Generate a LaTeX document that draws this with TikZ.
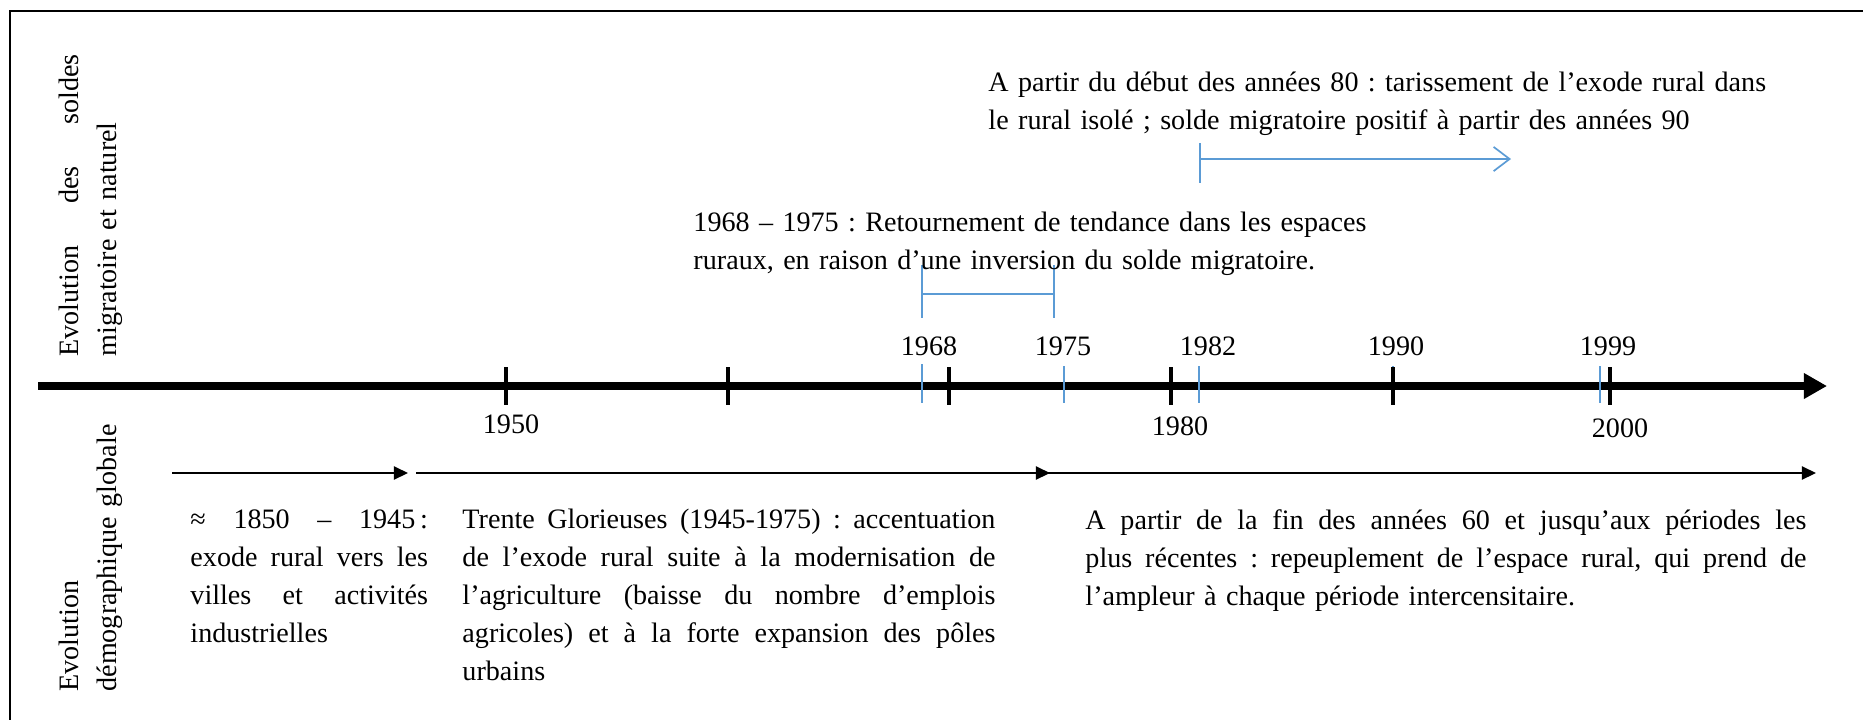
\documentclass[tikz,border=0pt]{standalone}
\usepackage{fontspec}
\setmainfont{Liberation Serif}
\usetikzlibrary{arrows.meta}
\definecolor{wordblue}{RGB}{91,155,213}
% one line of a justified block, stretched to the given width
\newcommand{\jline}[2]{\leavevmode\hbox to #1{\spaceskip=0.25em plus 1fil\relax\xspaceskip=\spaceskip #2}}
\newcommand{\bodyfont}{\fontsize{11.6}{15.7}\selectfont\frenchspacing}
\tikzset{
    txt/.style={anchor=base west, inner sep=0pt, font=\bodyfont},
    block/.style={txt, text width=#1},
    note/.style={txt, text width=#1, align=left},
    year/.style={anchor=base, inner sep=0pt, font=\bodyfont},
    axisline/.style={line width=3.3pt, -{Triangle[length=9.5pt,width=10pt]}},
    tick/.style={line width=1.5pt},
    bluetick/.style={wordblue, line width=0.6pt},
    period/.style={line width=0.8pt, -{Triangle[length=5.8pt,width=5.4pt]}},
    bluearrow/.style={wordblue, line width=0.7pt, -{Straight Barb[length=6.6pt,width=10pt]}},
}

\begin{document}
\begin{tikzpicture}[x=1.45cm, y=1.45cm]
    \useasboundingbox (0,-3.33) rectangle (18.63,3.86);
    \draw[line width=0.8pt] (0.10,-3.5) |- (18.8,3.75);

    % side titles
    \node[block=124.6pt, rotate=90] (lbltop) at (0.78,0.29) {\jline{124.6pt}{Evolution des soldes}\\migratoire et naturel};
    \node[block=124.6pt, rotate=90] (lblbot) at (0.78,-3.06) {Evolution\\démographique globale};

    % time axis
    \coordinate (axstart) at (0.38,0);
    \coordinate (axend) at (18.27,0);
    \draw[bluetick] (13.93,0.20) -- (13.93,-0.17);
    \draw[axisline] (axstart) -- (axend);
    \draw[tick] (5.06,0.19) -- (5.06,-0.19);
    \draw[tick] (7.28,0.19) -- (7.28,-0.19);
    \draw[tick] (9.49,0.19) -- (9.49,-0.19);
    \draw[tick] (11.71,0.19) -- (11.71,-0.19);
    \draw[tick] (13.93,0.19) -- (13.93,-0.19);
    \draw[tick] (16.10,0.19) -- (16.10,-0.19);
    \draw[bluetick] (9.22,0.22) -- (9.22,-0.17);
    \draw[bluetick] (10.64,0.20) -- (10.64,-0.17);
    \draw[bluetick] (11.99,0.20) -- (11.99,-0.17);
    \draw[bluetick] (16.00,0.20) -- (16.00,-0.17);

    \node[year] (y1968) at (9.29,0.31) {1968};
    \node[year] (y1975) at (10.63,0.31) {1975};
    \node[year] (y1982) at (12.08,0.31) {1982};
    \node[year] (y1990) at (13.96,0.31) {1990};
    \node[year] (y1999) at (16.08,0.31) {1999};
    \node[year] (y1950) at (5.11,-0.47) {1950};
    \node[year] (y1980) at (11.80,-0.49) {1980};
    \node[year] (y2000) at (16.20,-0.51) {2000};

    % migratory balance
    \draw[bluetick] (9.22,1.21) -- (9.22,0.68);
    \draw[bluetick] (10.54,1.21) -- (10.54,0.68);
    \coordinate (b68) at (9.22,0.92);
    \coordinate (b75) at (10.54,0.92);
    \draw[bluetick] (b68) -- (b75);
    \node[note=320pt] (t6875) at (6.93,1.55) {1968 – 1975 : Retournement de tendance dans les espaces\\ruraux, en raison d’une inversion du solde migratoire.};

    \draw[bluetick] (12.00,2.43) -- (12.00,2.03);
    \coordinate (a82) at (12.00,2.27);
    \coordinate (a82end) at (15.11,2.27);
    \draw[bluearrow] (a82) -- (a82end);
    \node[note=380pt] (t80) at (9.88,2.95) {A partir du début des années 80 : tarissement de l’exode rural dans\\le rural isolé ; solde migratoire positif à partir des années 90};

    % global evolution
    \coordinate (p1s) at (1.72,-0.87);
    \coordinate (p1e) at (4.08,-0.87);
    \coordinate (p2s) at (4.16,-0.87);
    \coordinate (p2e) at (10.50,-0.87);
    \coordinate (p3s) at (9.16,-0.87);
    \coordinate (p3e) at (18.16,-0.87);
    \draw[period] (p1s) -- (p1e);
    \draw[period] (p3s) -- (p3e);
    \draw[period] (p2s) -- (p2e);

    \node[block=98pt] (exode) at (1.90,-1.42) {\jline{98pt}{≈ 1850 – 1945\kern2pt:}\\\jline{98pt}{exode rural vers les}\\\jline{98pt}{villes et activités}\\industrielles};
    \node[block=219.9pt] (trente) at (4.62,-1.42) {\jline{219.9pt}{Trente Glorieuses (1945-1975) : accentuation}\\\jline{219.9pt}{de l’exode rural suite à la modernisation de}\\\jline{219.9pt}{l’agriculture (baisse du nombre d’emplois}\\\jline{219.9pt}{agricoles) et à la forte expansion des pôles}\\urbains};
    \node[block=297.5pt] (repeup) at (10.85,-1.43) {\jline{297.5pt}{A partir de la fin des années 60 et jusqu’aux périodes les}\\\jline{297.5pt}{plus récentes : repeuplement de l’espace rural, qui prend de}\\l’ampleur à chaque période intercensitaire.};
\end{tikzpicture}
\end{document}
